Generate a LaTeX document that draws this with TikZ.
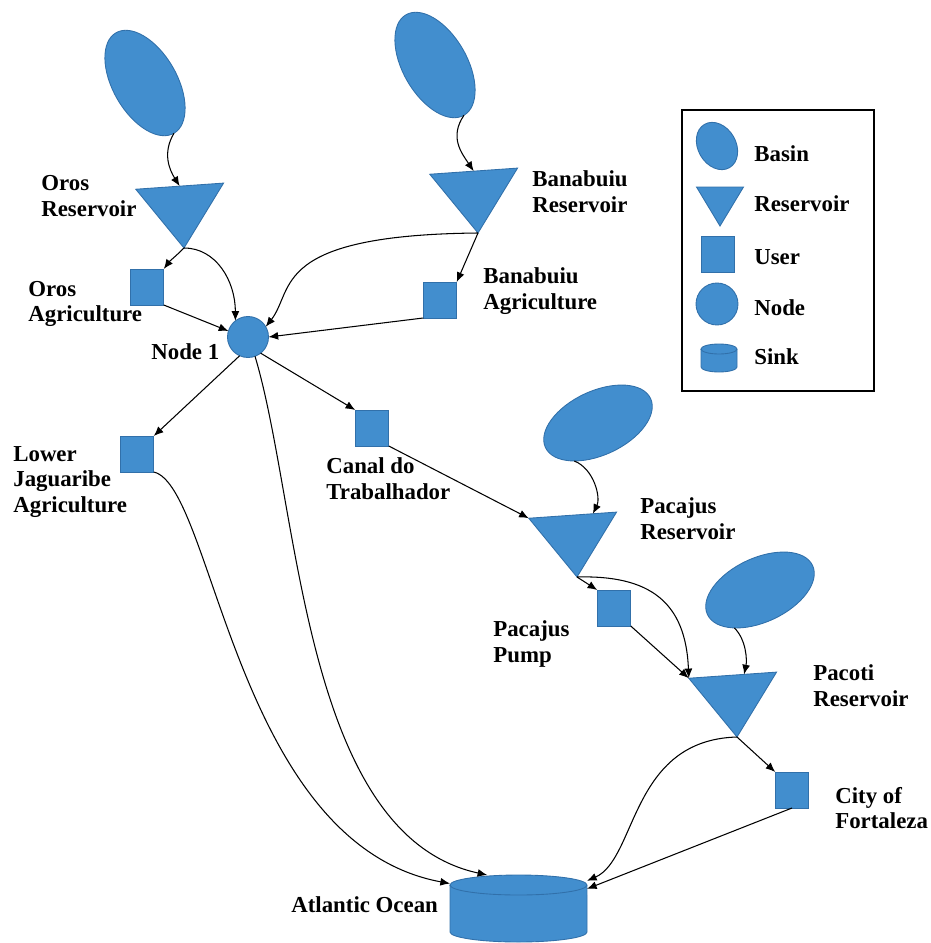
\documentclass[tikz,border=0pt]{standalone}
\usepackage{fontspec}
\setmainfont{Liberation Serif}
\usetikzlibrary{arrows.meta,calc,shapes.geometric}
\definecolor{WaterBlue}{RGB}{66,142,206}
\definecolor{WaterEdge}{RGB}{49,112,170}

\begin{document}
\begin{tikzpicture}[x=0.02cm,y=-0.02cm,>={Latex[length=5.5pt,width=4.5pt]}]
    \tikzset{shp/.style={draw=WaterEdge,fill=WaterBlue,line width=0.5pt,inner sep=0pt,outer sep=0pt}}
    \tikzset{basin/.style={shp,ellipse,minimum width=2.32cm,minimum height=1.28cm}}
    \tikzset{reservoir/.style={shp,isosceles triangle,isosceles triangle stretches,minimum width=1.76cm,minimum height=1.24cm,rotate=-86,anchor=apex}}
    \tikzset{user/.style={shp,rectangle,minimum width=0.67cm,minimum height=0.72cm}}
    \tikzset{hub/.style={shp,circle,minimum size=0.82cm}}
    \tikzset{sinkbox/.style={rectangle,inner sep=0pt,outer sep=0pt}}
    \tikzset{lbl/.style={anchor=west,align=left,inner sep=0pt,font=\bfseries\fontsize{13}{14.6}\selectfont}}
    \tikzset{flow/.style={->,black,line width=0.6pt}}
    \useasboundingbox (0,0) rectangle (930,943);

    % upper basins
    \node[basin,rotate=-60] (orosB) at (145,83) {};
    \node[basin,rotate=-60] (banaB) at (435,65) {};
    \node[reservoir] (orosR) at (184,248) {};
    \node[reservoir] (banaR) at (478,233) {};
    \node[user] (orosA) at (147,287) {};
    \node[user] (banaA) at (440,300) {};
    \node[hub] (node1) at (248,337) {};
    \node[user] (lowJ) at (137,454) {};
    \node[user] (canal) at (372,428) {};

    % coastal system
    \node[basin,rotate=25] (pacB) at (598,423) {};
    \node[basin,rotate=25] (pacoB) at (760,590) {};
    \node[reservoir] (pacR) at (577,577) {};
    \node[reservoir] (pacoR) at (737,737) {};
    \node[user] (pump) at (614,608) {};
    \node[user] (city) at (792,790) {};
    \node[sinkbox,minimum width=2.74cm,minimum height=1.34cm] (sink) at (518.5,908.5) {};
    \draw[shp] ([yshift=-0.2cm]sink.north west) -- ([yshift=0.2cm]sink.south west)
      arc[start angle=180,end angle=0,x radius=68.5,y radius=10] -- ([yshift=-0.2cm]sink.north east)
      arc[start angle=0,end angle=-180,x radius=68.5,y radius=10] -- cycle;
    \draw[WaterEdge,line width=0.5pt] ([yshift=-0.2cm]sink.north west) arc[start angle=180,end angle=0,x radius=68.5,y radius=10];

    % labels
    \node[lbl] (orosRl) at (41,196) {Oros\\Reservoir};
    \node[lbl] (orosAl) at (28,304) {Oros\\Agriculture};
    \node[lbl] (node1l) at (151,352) {Node 1};
    \node[lbl] (banaRl) at (532,192) {Banabuiu\\Reservoir};
    \node[lbl] (banaAl) at (483,291) {Banabuiu\\Agriculture};
    \node[lbl] (lowJl) at (13,482) {Lower\\Jaguaribe\\Agriculture};
    \node[lbl] (canall) at (326,479) {Canal do\\Trabalhador};
    \node[lbl] (pacRl) at (640,519) {Pacajus\\Reservoir};
    \node[lbl] (pumpl) at (493,644) {Pacajus\\Pump};
    \node[lbl] (pacoRl) at (813,686) {Pacoti\\Reservoir};
    \node[lbl] (cityl) at (835,808) {City of\\Fortaleza};
    \node[lbl] (sinkl) at (291,905) {Atlantic Ocean};

    % legend
    \draw[black,line width=0.6pt] (682,110) rectangle (874,391);
    \node[shp,ellipse,minimum width=1.0cm,minimum height=0.76cm,rotate=-60] (lgB) at (717,146) {};
    \node[shp,isosceles triangle,isosceles triangle stretches,minimum width=0.94cm,minimum height=0.78cm,rotate=-90,anchor=apex] (lgR) at (720,226) {};
    \node[user] (lgU) at (718,254) {};
    \node[hub,minimum size=0.84cm] (lgN) at (717,304) {};
    \node[sinkbox,minimum width=0.72cm,minimum height=0.56cm] (lgS) at (719,358) {};
    \draw[shp] ([yshift=-0.1cm]lgS.north west) -- ([yshift=0.1cm]lgS.south west)
      arc[start angle=180,end angle=0,x radius=18,y radius=5] -- ([yshift=-0.1cm]lgS.north east)
      arc[start angle=0,end angle=-180,x radius=18,y radius=5] -- cycle;
    \draw[WaterEdge,line width=0.5pt] ([yshift=-0.1cm]lgS.north west) arc[start angle=180,end angle=0,x radius=18,y radius=5];
    \node[lbl] (lgBl) at (754,154) {Basin};
    \node[lbl] (lgRl) at (754,204) {Reservoir};
    \node[lbl] (lgUl) at (754,257) {User};
    \node[lbl] (lgNl) at (754,308) {Node};
    \node[lbl] (lgSl) at (754,357) {Sink};

    % flows
    \draw[flow] (orosB.east) .. controls +(-12,20) and +(-10,-16) .. (orosR.west);
    \draw[flow] (banaB.east) .. controls +(-15,22) and +(-12,-18) .. (banaR.west);
    \draw[flow] (orosR.apex) .. controls +(-8,8) and +(6,-8) .. (orosA.north east);
    \draw[flow] (orosR.apex) .. controls +(32,0) and +(0,-40) .. (node1.128);
    \draw[flow] (orosA.south east) -- (node1.163);
    \draw[flow] (banaR.apex) .. controls +(-208,2) and +(29,-37) .. (node1.30);
    \draw[flow] (banaR.apex) -- (banaA.north east);
    \draw[flow] (banaA.south west) -- (node1.east);
    \draw[flow] (node1.246) -- (lowJ.north east);
    \draw[flow] (node1.308) -- (canal.north west);
    \draw[flow] (node1.290) .. controls +(45,150) and +(-185,-40) .. (sink.133);
    \draw[flow] (lowJ.south east) .. controls +(60,14) and +(-215,-40) .. (sink.160);
    \draw[flow] (canal.south east) -- (pacR.right corner);
    \draw[flow] (pacB.213) .. controls +(20,8) and +(8,-16) .. ($(pacR.right corner)!.73!(pacR.left corner)$);
    \draw[flow] (pacR.apex) -- (pump.north west);
    \draw[flow] (pacR.apex) .. controls +(72,-2) and +(-3,-77) .. (pacoR.right corner);
    \draw[flow] (pump.south east) -- (pacoR.right corner);
    \draw[flow] (pacoB.211) .. controls +(12,12) and +(3,-14) .. ($(pacoR.right corner)!.63!(pacoR.left corner)$);
    \draw[flow] (pacoR.apex) -- (city.north west);
    \draw[flow] (pacoR.apex) .. controls +(-107,3) and +(50,-22) .. (sink.22);
    \draw[flow] (city.south) -- (sink.16);
\end{tikzpicture}
\end{document}
